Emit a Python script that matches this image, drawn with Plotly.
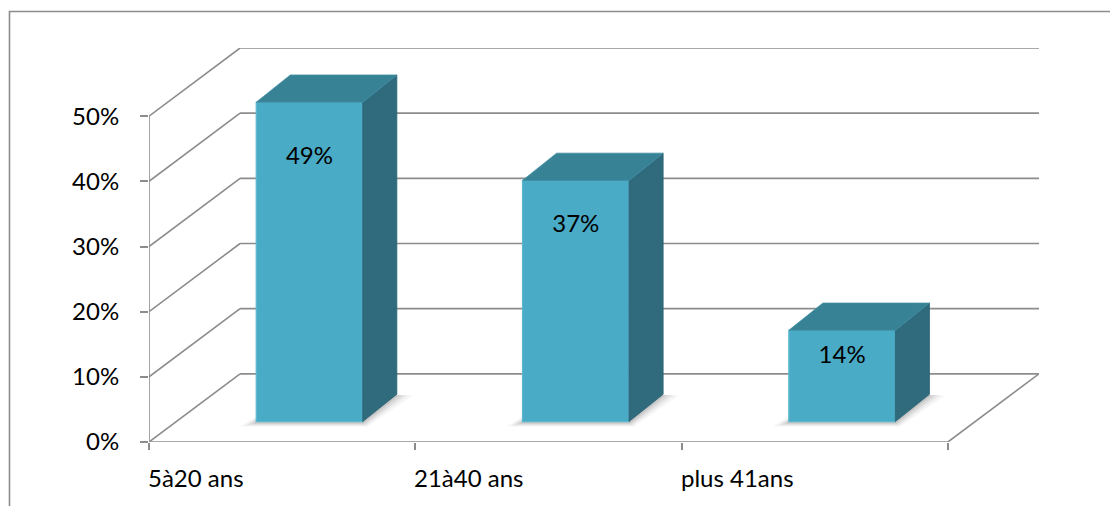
import plotly.graph_objects as go

# ---- data ----
categories = ["5à20 ans", "21à40 ans", "plus 41ans"]
values = [0.49, 0.37, 0.14]
value_labels = ["49%", "37%", "14%"]
y_ticks = [0, 0.1, 0.2, 0.3, 0.4, 0.5]
y_tick_labels = ["0%", "10%", "20%", "30%", "40%", "50%"]

# ---- 3D projection settings (data units) ----
DX = 0.342      # depth shift along x (category units)
DY = 0.1046     # depth shift along y (value units)
F0 = 0.30       # depth fraction of bar front plane
FD = 0.40       # bar depth as fraction of floor depth
BAR_W = 0.40    # bar width in category units
BAR_DX = 0.128  # bar side shift along x (category units)
Y_MAX = 0.5

W, H = 1110, 506
ML, MR, MT, MB = 149, 71, 48, 64
PX_X = (W - ML - MR) / (len(categories) + DX)
PX_Y = (H - MT - MB) / (Y_MAX + DY)

GRID = "#8c8c8c"
FRONT = "#4aabc6"
SIDE = "#2f6b7c"
TOP = "#388296"
FONT = dict(family="Lato, Open Sans, sans-serif", size=24, color="black")

n = len(categories)
fig = go.Figure()
shapes = []


def line(x0, y0, x1, y1, width=1.6):
    shapes.append(dict(type="line", xref="x", yref="y", x0=x0, y0=y0, x1=x1, y1=y1,
                       line=dict(color=GRID, width=width), layer="below"))


def poly(pts, color, opacity=1.0, layer="below"):
    path = "M " + " L ".join(f"{x},{y}" for x, y in pts) + " Z"
    shapes.append(dict(type="path", xref="x", yref="y", path=path, fillcolor=color,
                       opacity=opacity, line=dict(width=0), layer=layer))


# back wall, left wall and floor
for t in y_ticks:
    line(DX, t + DY, n + DX, t + DY)
    line(0, t, DX, t + DY)
line(0, 0, 0, Y_MAX)
line(0, 0, n, 0)
line(n, 0, n + DX, DY)

# soft shadows on the floor under each bar
bdx, bdy = BAR_DX, FD * DY
yb = F0 * DY
for i, v in enumerate(values):
    xc = i + 0.5 + F0 * DX
    xl, xr = xc - BAR_W / 2, xc + BAR_W / 2
    for ex, ey, op in [(16, 5, 0.05), (11, 4, 0.07), (7, 3, 0.09), (3, 2, 0.12)]:
        ux, uy = ex / PX_X, ey / PX_Y
        poly([(xl - ux, yb - uy), (xr + ux * 0.3, yb - uy),
              (xr + bdx + ux, yb + bdy - uy * 0.2), (xl + bdx, yb + bdy - uy * 0.2)],
             "#404040", op)

# bar side and top faces
for i, v in enumerate(values):
    xc = i + 0.5 + F0 * DX
    xl, xr = xc - BAR_W / 2, xc + BAR_W / 2
    yt = yb + v
    fig.add_trace(go.Scatter(
        x=[xr, xr + bdx, xr + bdx, xr, xr], y=[yb, yb + bdy, yt + bdy, yt, yb],
        fill="toself", fillcolor=SIDE, mode="lines", line=dict(width=0.8, color="#2a6272"),
        hoverinfo="skip", showlegend=False))
    fig.add_trace(go.Scatter(
        x=[xl, xr, xr + bdx, xl + bdx, xl], y=[yt, yt, yt + bdy, yt + bdy, yt],
        fill="toself", fillcolor=TOP, mode="lines", line=dict(width=0.8, color="#3f8ea3"),
        hoverinfo="skip", showlegend=False))

# bar front faces
fig.add_trace(go.Bar(
    x=[i + 0.5 + F0 * DX for i in range(n)], y=values, base=[yb] * n, width=BAR_W,
    marker=dict(color=FRONT, line=dict(color="#5cb8d0", width=1.2)),
    hoverinfo="skip", showlegend=False))

# value labels inside the bars
fig.add_trace(go.Scatter(
    x=[i + 0.5 + F0 * DX for i in range(n)],
    y=[yb + v * 0.869 - 0.022 for v in values],
    mode="text", text=value_labels, textfont=FONT, textposition="middle center",
    hoverinfo="skip", showlegend=False))

# category labels, left-aligned at their tick marks
annotations = [dict(x=i, y=0, xref="x", yref="paper", yshift=-35, text=c,
                    showarrow=False, xanchor="left", yanchor="middle", font=FONT,
                    xshift=-3)
               for i, c in enumerate(categories)]

# outer chart border
py = lambda p: (H - MB - p) / (H - MT - MB)
px = lambda p: (p - ML) / (W - ML - MR)
shapes.append(dict(type="rect", xref="paper", yref="paper",
                   x0=px(9.5), x1=px(1120), y0=py(515), y1=py(11.5),
                   line=dict(color=GRID, width=1.6), fillcolor="rgba(0,0,0,0)"))

fig.update_layout(
    width=W, height=H, margin=dict(l=ML, r=MR, t=MT, b=MB),
    paper_bgcolor="white", plot_bgcolor="white",
    shapes=shapes, annotations=annotations, barmode="overlay",
    xaxis=dict(range=[0, n + DX], showgrid=False, zeroline=False, showline=False,
               tickvals=list(range(n + 1)), ticks="outside", ticklen=7, tickwidth=1.6,
               tickcolor=GRID, showticklabels=False, fixedrange=True),
    yaxis=dict(range=[0, Y_MAX + DY], showgrid=False, zeroline=False, showline=False,
               tickvals=y_ticks, ticktext=y_tick_labels, ticks="outside", ticklen=8,
               tickwidth=1.6, tickcolor=GRID, tickfont=FONT, ticklabelstandoff=16,
               fixedrange=True),
)

fig.write_html("out.html")
